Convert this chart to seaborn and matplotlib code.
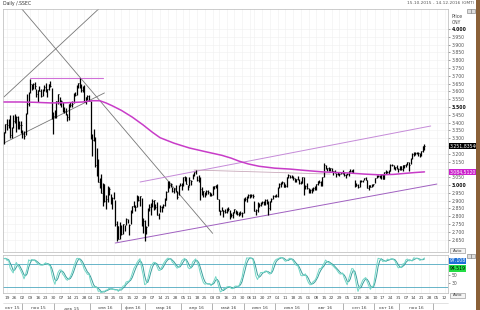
import numpy as np
import pandas as pd
import matplotlib
matplotlib.use("Agg")
import matplotlib.pyplot as plt
import seaborn as sns
from matplotlib.patches import Rectangle
from matplotlib.lines import Line2D
from matplotlib.transforms import blended_transform_factory

# ------------------------------------------------------------------ data
title_left = "Daily /.SSEC"
title_right = "15.10.2015 - 14.12.2016 (GMT)"
first_day = "2015-10-15"
last_axis_day = "2016-12-14"
holidays = ["2016-01-01", "2016-02-08", "2016-02-09", "2016-02-10", "2016-02-11",
            "2016-02-12", "2016-04-04", "2016-05-02", "2016-06-09", "2016-06-10",
            "2016-09-15", "2016-09-16", "2016-10-03", "2016-10-04", "2016-10-05",
            "2016-10-06", "2016-10-07"]
ru_months = ["янв", "фев", "мар", "апр", "май", "июн", "июл", "авг", "сен", "окт", "ноя", "дек"]

high = [
    # Oct 2015
    3342, 3394, 3421, 3425, 3447, 3370, 3447, 3457, 3443, 3440, 3410, 3410,
    # Nov 2015
    3354, 3349, 3459, 3585, 3597, 3678, 3650, 3654, 3662, 3617, 3607, 3634, 3617, 3617,
    3640, 3654, 3618, 3648, 3668, 3621, 3470,
    # Dec 2015
    3483, 3540, 3585, 3564, 3545, 3532, 3501, 3494, 3453, 3520, 3532, 3537, 3588, 3597,
    3643, 3654, 3684, 3646, 3633, 3638, 3565, 3575, 3576,
    # Jan 2016
    3538, 3328, 3362, 3309, 3236, 3166, 3046, 3069, 3011, 3006, 2934, 2996, 2986, 2944,
    2924, 2954, 2902, 2768, 2735, 2762,
    # Feb 2016
    2741, 2749, 2743, 2791, 2782, 2750, 2837, 2867, 2897, 2870, 2933, 2930, 2930, 2918,
    2786, 2774,
    # Mar 2016
    2737, 2850, 2876, 2882, 2908, 2903, 2880, 2892, 2820, 2873, 2865, 2877, 2917, 2962,
    3026, 3023, 3014, 2988, 2983, 2999, 2962, 3001, 3013,
    # Apr 2016
    3010, 3053, 3057, 3051, 3001, 3054, 3034, 3072, 3086, 3097, 3057, 3062, 3050, 2986,
    2962, 2957, 2968, 2968, 2958, 2951,
    # May 2016
    2993, 2996, 3000, 3006, 2911, 2842, 2857, 2840, 2848, 2851, 2860, 2838, 2821, 2827,
    2848, 2842, 2832, 2829, 2832, 2826, 2917,
    # Jun 2016
    2923, 2927, 2941, 2942, 2944, 2940, 2896, 2847, 2888, 2885, 2893, 2900, 2896, 2909,
    2907, 2898, 2896, 2914, 2933, 2939,
    # Jul 2016
    2943, 2990, 3010, 3019, 3026, 3016, 3005, 3049, 3070, 3064, 3064, 3058, 3044, 3039,
    3055, 3041, 3027, 3050, 3052, 3001, 3010,
    # Aug 2016
    2982, 2972, 2982, 2985, 2995, 3005, 3026, 3032, 3028, 3053, 3140, 3125, 3112, 3115,
    3111, 3110, 3090, 3095, 3080, 3085, 3077, 3083, 3095,
    # Sep 2016
    3085, 3070, 3080, 3091, 3100, 3097, 3100, 3031, 3013, 3009, 3030, 3031, 3030, 3043,
    3049, 3035, 2998, 3000, 3006, 3008,
    # Oct 2016
    3048, 3067, 3065, 3067, 3069, 3069, 3084, 3096, 3088, 3097, 3136, 3136, 3130, 3117,
    3127, 3107,
    # Nov 2016
    3123, 3121, 3131, 3131, 3133, 3148, 3147, 3172, 3202, 3213, 3210, 3212, 3214, 3208,
    3218, 3249, 3265,
]
low = [
    3261, 3334, 3354, 3367, 3301, 3298, 3366, 3397, 3338, 3361, 3362, 3332,
    3302, 3295, 3320, 3454, 3508, 3588, 3607, 3614, 3618, 3562, 3532, 3601, 3567, 3570,
    3605, 3598, 3565, 3612, 3627, 3421, 3327,
    3427, 3430, 3520, 3515, 3503, 3468, 3461, 3447, 3411, 3416, 3500, 3498, 3523, 3570,
    3578, 3620, 3620, 3598, 3599, 3533, 3519, 3547, 3538,
    3295, 3189, 3283, 3115, 3057, 3016, 2983, 2949, 2867, 2891, 2844, 2894, 2938, 2879,
    2848, 2911, 2740, 2638, 2653, 2653,
    2677, 2686, 2702, 2743, 2759, 2682, 2747, 2818, 2861, 2835, 2859, 2900, 2866, 2735,
    2693, 2638,
    2685, 2734, 2834, 2808, 2860, 2837, 2846, 2805, 2782, 2825, 2825, 2850, 2867, 2905,
    2953, 2979, 2988, 2952, 2951, 2955, 2908, 2935, 2993,
    2967, 2992, 3023, 3008, 2968, 2991, 3000, 3036, 3058, 3068, 3028, 3019, 2901, 2938,
    2921, 2921, 2933, 2943, 2927, 2929,
    2936, 2976, 2978, 2911, 2832, 2807, 2832, 2798, 2820, 2818, 2836, 2780, 2794, 2790,
    2821, 2812, 2810, 2799, 2808, 2796, 2818,
    2900, 2890, 2915, 2916, 2923, 2917, 2831, 2807, 2827, 2859, 2866, 2875, 2872, 2873,
    2877, 2807, 2838, 2890, 2909, 2924,
    2921, 2920, 2980, 2986, 3005, 2985, 2987, 2989, 3045, 3045, 3042, 3035, 3020, 3020,
    3030, 3008, 3008, 3014, 2934, 2976, 2975,
    2947, 2946, 2951, 2962, 2969, 2965, 3001, 3014, 2995, 2992, 3050, 3103, 3087, 3087,
    3091, 3082, 3065, 3075, 3050, 3064, 3058, 3068, 3068,
    3058, 3048, 3065, 3060, 3086, 3085, 3076, 2990, 2993, 2980, 2990, 3018, 3016, 3030,
    3030, 2980, 2968, 2986, 2987, 2993,
    3010, 3047, 3050, 3048, 3040, 3039, 3040, 3073, 3076, 3073, 3091, 3122, 3103, 3096,
    3102, 3082,
    3096, 3099, 3090, 3112, 3118, 3130, 3091, 3132, 3165, 3185, 3193, 3196, 3186, 3182,
    3187, 3214, 3227,
]
close = [
    3338, 3391, 3386, 3425, 3320, 3368, 3412, 3429, 3434, 3375, 3387, 3382,
    3325, 3316, 3459, 3522, 3590, 3646, 3640, 3650, 3632, 3580, 3606, 3604, 3568, 3617,
    3630, 3610, 3616, 3647, 3635, 3436, 3445,
    3456, 3536, 3584, 3524, 3536, 3470, 3472, 3455, 3434, 3520, 3510, 3516, 3580, 3578,
    3642, 3651, 3636, 3612, 3627, 3533, 3563, 3572, 3539,
    3296, 3288, 3361, 3125, 3186, 3016, 3022, 2949, 3007, 2900, 2913, 2991, 2976, 2880,
    2916, 2938, 2750, 2735, 2655, 2737,
    2688, 2749, 2739, 2781, 2763, 2746, 2836, 2867, 2862, 2860, 2927, 2903, 2928, 2742,
    2767, 2688,
    2733, 2849, 2859, 2874, 2897, 2901, 2862, 2805, 2810, 2859, 2864, 2870, 2904, 2955,
    3018, 2999, 3009, 2960, 2979, 2957, 2920, 3000, 3003,
    3009, 3053, 3050, 3008, 2985, 3034, 3023, 3066, 3082, 3078, 3034, 3042, 2972, 2953,
    2959, 2946, 2964, 2953, 2945, 2938,
    2992, 2991, 2997, 2913, 2832, 2832, 2837, 2835, 2827, 2850, 2843, 2808, 2806, 2825,
    2843, 2821, 2815, 2822, 2821, 2822, 2917,
    2913, 2925, 2938, 2934, 2937, 2927, 2833, 2842, 2887, 2873, 2885, 2888, 2879, 2905,
    2892, 2854, 2895, 2912, 2932, 2930,
    2932, 2988, 3007, 3017, 3017, 2989, 2994, 3049, 3061, 3054, 3054, 3043, 3027, 3037,
    3040, 3012, 3015, 3050, 2992, 2994, 2979,
    2953, 2971, 2979, 2982, 2977, 3004, 3026, 3018, 3002, 3050, 3125, 3110, 3110, 3104,
    3108, 3084, 3089, 3086, 3068, 3070, 3070, 3074, 3085,
    3063, 3067, 3072, 3090, 3091, 3095, 3078, 2995, 3002, 2987, 3026, 3023, 3025, 3042,
    3033, 2980, 2998, 2988, 2999, 3005,
    3048, 3066, 3058, 3062, 3064, 3041, 3084, 3084, 3085, 3091, 3128, 3131, 3116, 3113,
    3104, 3100,
    3122, 3102, 3129, 3125, 3133, 3147, 3128, 3171, 3197, 3210, 3207, 3205, 3208, 3192,
    3218, 3248, 3251,
]

# moving average
ma_dates = ["2015-10-15", "2015-10-29", "2015-11-12", "2015-11-26", "2015-12-10",
            "2015-12-25", "2016-01-05", "2016-01-12", "2016-01-18", "2016-01-22",
            "2016-02-01", "2016-02-17", "2016-02-26", "2016-03-07", "2016-03-14",
            "2016-03-25", "2016-04-11", "2016-04-26", "2016-05-11", "2016-05-19",
            "2016-05-26", "2016-06-03", "2016-06-16", "2016-06-30", "2016-07-14",
            "2016-07-28", "2016-08-12", "2016-08-25", "2016-09-06", "2016-09-22",
            "2016-10-13", "2016-10-26", "2016-11-07", "2016-11-15", "2016-11-23"]
ma_values = [3532, 3532, 3530, 3526, 3527, 3532, 3540, 3540, 3526, 3508,
             3478, 3435, 3385, 3338, 3303, 3268, 3237, 3212, 3190, 3172,
             3153, 3135, 3120, 3108, 3102, 3093, 3084, 3080, 3077, 3070,
             3065, 3068, 3075, 3080, 3084]

# drawn trend lines: (start date, start price, end date, end price)
trend_start_dates = ["2015-10-30", "2016-01-12", "2015-10-15", "2015-11-09",
                     "2016-02-24", "2016-01-26", "2016-04-14"]
trend_start_prices = [4135, 4135, 3269, 3684, 3019, 2628, 3096]
trend_end_dates = ["2016-05-03", "2015-10-15", "2016-01-15", "2016-01-14",
                   "2016-11-29", "2016-12-05", "2016-08-19"]
trend_end_prices = [2690, 3564, 3590, 3684, 3378, 3006, 3070]

stoch_period, stoch_smooth, stoch_signal = 14, 3, 3
price_label = "3.251,83540"
ma_label = "3.084,5120"

# ------------------------------------------------------------------ style
sns.set_theme(style="white")
plt.rcParams["font.family"] = ["DejaVu Sans"]
trend_colors = ["#777777", "#777777", "#777777", "#d070d8", "#c58ad8", "#a060c0", "#c9aabb"]
trend_widths = [0.6, 0.6, 0.6, 0.8, 0.7, 0.7, 0.6]
FS = 3.3
W, H = 480, 310

fig = plt.figure(figsize=(W / 100, H / 100), dpi=100, facecolor="white")

def fx(px):
    return px / W

def fy(py):
    return 1 - py / H

ax = fig.add_axes([fx(3), fy(252), fx(445), 243 / H])
ax2 = fig.add_axes([fx(3), fy(293), fx(445), 38 / H])

# trading calendar
bd = pd.bdate_range(first_day, last_axis_day)
cal = bd[~bd.isin(pd.to_datetime(holidays))]
pos = pd.Series(np.arange(len(cal)), index=cal)
n = len(close)
idx = np.arange(n)

df = pd.DataFrame({"i": idx, "high": high, "low": low, "close": close})

# ------------------------------------------------------------------ price bars
ax.vlines(df["i"], df["low"], df["high"], color="black", lw=0.9, zorder=3)
ax.hlines(df["close"], df["i"], df["i"] + 0.5, color="black", lw=0.6, zorder=3)

# moving average
ma_df = pd.DataFrame({"i": pos[pd.to_datetime(ma_dates)].values, "v": ma_values})
sns.lineplot(data=ma_df, x="i", y="v", ax=ax, color="#c83cc8", lw=1.1, zorder=4)

# trend lines
for sd, sp, ed, ep, c, w in zip(trend_start_dates, trend_start_prices, trend_end_dates,
                                trend_end_prices, trend_colors, trend_widths):
    ax.plot([pos[pd.Timestamp(sd)], pos[pd.Timestamp(ed)]], [sp, ep], color=c, lw=w, zorder=2)

ax.set_xlim(-0.6, 287.2)
ax.set_ylim(2570.5, 4128)

# weekly ticks
iso = cal.isocalendar()
week_first = pos.groupby([iso.year.values, iso.week.values]).min()
week_pos = [p for p in week_first.values if p > 0.5]
week_lbl = [cal[p].strftime("%d") for p in week_pos]

yt = np.arange(2650, 4001, 50)
ax.set_yticks(yt)
ylabels = []
for v in yt:
    if abs(v - close[-1]) < 25 or abs(v - ma_values[-1]) < 25:
        ylabels.append("")
    else:
        ylabels.append(f"{v // 1000}.{v % 1000:03d}")
ax.set_yticklabels(ylabels)
ax.yaxis.tick_right()
ax.tick_params(axis="y", labelsize=FS, length=1.5, width=0.4, pad=1.2, colors="#555555",
               right=True)
for lbl, v in zip(ax.get_yticklabels(), yt):
    if v % 500 == 0:
        lbl.set_fontweight("bold")
        lbl.set_color("#111111")
ax.set_xticks(week_pos)
ax.set_xticklabels([])
ax.tick_params(axis="x", length=0)
ax.grid(True, color="#efefef", lw=0.4)
ax.set_xlabel("")
ax.set_ylabel("")
for s in ax.spines.values():
    s.set_color("#b8b8b8")
    s.set_linewidth(0.5)

# ------------------------------------------------------------------ stochastic
hh = df["high"].rolling(stoch_period, min_periods=1).max()
ll = df["low"].rolling(stoch_period, min_periods=1).min()
raw = 100 * (df["close"] - ll) / (hh - ll)
k = raw.rolling(stoch_smooth, min_periods=1).mean()
d = k.rolling(stoch_signal, min_periods=1).mean()
st = pd.DataFrame({"i": idx, "k": k, "d": d})
ax2.axhline(80, color="#4fa8bf", lw=0.6)
ax2.axhline(20, color="#4fa8bf", lw=0.6)
sns.lineplot(data=st, x="i", y="d", ax=ax2, color="#3a9e9c", lw=0.7)
sns.lineplot(data=st, x="i", y="k", ax=ax2, color="#72d6c6", lw=0.7)
ax2.set_xlim(-0.6, 287.2)
ax2.set_ylim(3, 105)
ax2.yaxis.tick_right()
ax2.set_yticks([50, 30])
ax2.set_yticklabels(["50", "30"])
ax2.tick_params(axis="y", labelsize=FS, length=1.5, width=0.4, pad=1.2, colors="#555555",
                right=True)
ax2.set_xticks(week_pos)
ax2.set_xticklabels(week_lbl)
ax2.tick_params(axis="x", labelsize=FS - 0.2, length=0, pad=2.5, colors="#444444")
ax2.grid(True, axis="x", color="#efefef", lw=0.4)
ax2.set_xlabel("")
ax2.set_ylabel("")
for s in ax2.spines.values():
    s.set_color("#b8b8b8")
    s.set_linewidth(0.5)

# month row
tr = blended_transform_factory(ax2.transData, ax2.transAxes)
mg = pos.groupby([cal.year, cal.month])
for (yy, mm), grp in mg:
    lo, hi = grp.min(), grp.max()
    if lo > 0:
        ax2.add_line(Line2D([lo - 0.5, lo - 0.5], [-0.25, -0.45], transform=tr, color="#777777",
                            lw=0.4, clip_on=False))
    if hi - lo >= 10:
        ax2.text((lo + hi) / 2, -0.425, f"{ru_months[mm - 1]} {yy % 100}", transform=tr,
                 ha="center", va="baseline", fontsize=FS - 0.2, color="#444444", clip_on=False)
ax2.add_line(Line2D([-0.6, 287.2], [-0.25, -0.25], transform=tr, color="#cccccc", lw=0.4,
                    clip_on=False))

# ------------------------------------------------------------------ value boxes
trp = blended_transform_factory(ax.transAxes, ax.transData)
ax.text(1.003, close[-1], price_label, transform=trp, ha="left", va="center", fontsize=FS,
        color="white", clip_on=False,
        bbox=dict(boxstyle="square,pad=0.18", fc="black", ec="none"))
ax.text(1.003, ma_values[-1], ma_label, transform=trp, ha="left", va="center", fontsize=FS,
        color="white", clip_on=False,
        bbox=dict(boxstyle="square,pad=0.18", fc="#cc22cc", ec="none"))
trs = blended_transform_factory(ax2.transAxes, ax2.transData)
ax2.text(1.003, 89, f"{k.iloc[-1]:.3f}", transform=trs, ha="left", va="center",
         fontsize=FS, color="white", clip_on=False,
         bbox=dict(boxstyle="square,pad=0.18", fc="#1c6fd6", ec="none"))
ax2.text(1.003, 68, f"{d.iloc[-1]:.3f}", transform=trs, ha="left", va="center",
         fontsize=FS, color="black", clip_on=False,
         bbox=dict(boxstyle="square,pad=0.18", fc="#22dd44", ec="none"))

# ------------------------------------------------------------------ frame decorations
fig.text(fx(3), fy(3.5), title_left, fontsize=FS, color="#333333", va="center", ha="left")
fig.text(fx(474), fy(3.5), title_right, fontsize=FS - 0.2, color="#555555", va="center",
         ha="right")
fig.text(fx(452), fy(16), "Price", fontsize=FS, color="#444444", va="center", ha="left")
fig.text(fx(452), fy(22), "CNY", fontsize=FS, color="#444444", va="center", ha="left")
for (bx, by) in [(450, 248), (450, 293)]:
    fig.add_artist(Rectangle((fx(bx), fy(by + 5)), 15 / W, 5 / H, transform=fig.transFigure,
                             fc="#f4f4f4", ec="#888888", lw=0.4))
    fig.text(fx(bx + 7.5), fy(by + 2.5), "Auto", fontsize=FS - 0.4, color="#333333",
             ha="center", va="center")
for (bx, by) in [(467, 9), (471, 9), (467, 254), (471, 254)]:
    fig.add_artist(Rectangle((fx(bx), fy(by + 4)), 4 / W, 4 / H, transform=fig.transFigure,
                             fc="#dddddd", ec="#777777", lw=0.4))
fig.add_artist(Rectangle((fx(476), 0), 4 / W, 1, transform=fig.transFigure,
                         fc="#8a6038", ec="none"))

fig.savefig("out.png", dpi=100, facecolor="white")
